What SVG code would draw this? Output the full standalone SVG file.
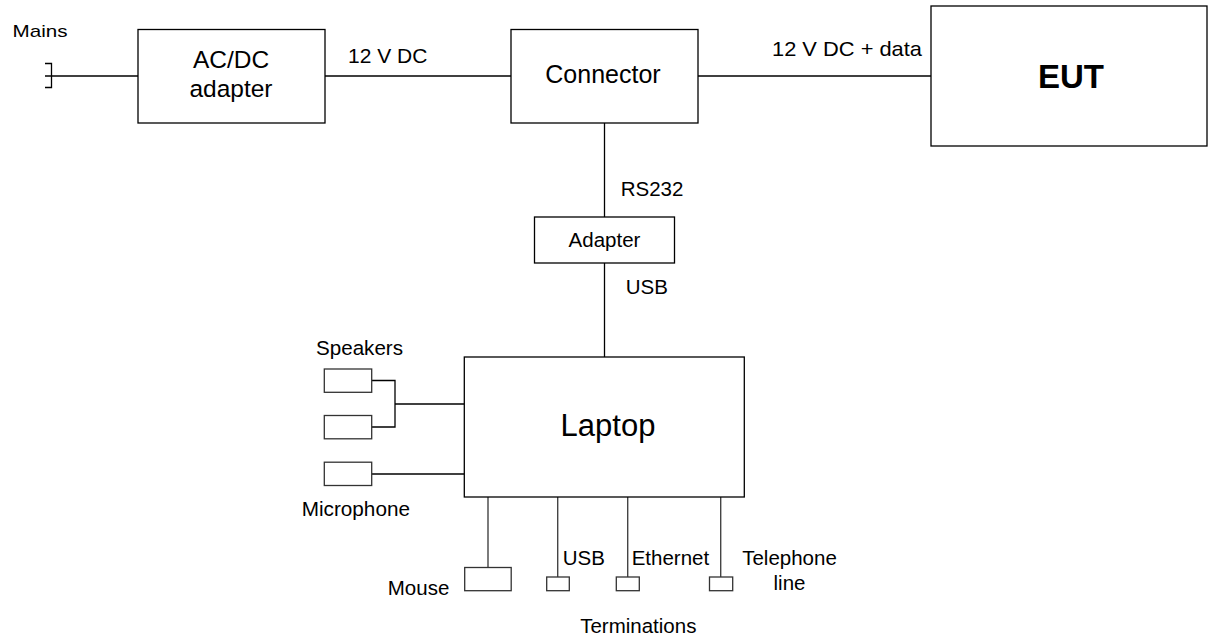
<svg xmlns="http://www.w3.org/2000/svg" width="1209" height="641" viewBox="0 0 1209 641">
<style>
text{font-family:"Liberation Sans",Arial,sans-serif;fill:#000}
.box{fill:#fff;stroke:#000;stroke-width:1.3}
.sbox{fill:#fff;stroke:#333;stroke-width:1.3}
.ln{fill:none;stroke:#000;stroke-width:1.3}
.lg{fill:none;stroke:#444;stroke-width:1.4}
.lbl{font-size:20.5px}
</style>
<rect width="1209" height="641" fill="#fff"/>
<g id="connectors">
<path class="ln" d="M45,76 H138"/>
<path class="ln" d="M45,63.5 H51.5 V87.5 H45"/>
<path class="ln" d="M325,76 H511"/>
<path class="ln" d="M698,76 H931"/>
<path class="ln" d="M604.5,123 V217"/>
<path class="ln" d="M604.5,263 V357"/>
<path class="ln" d="M372,380.5 H395 V427 H372"/>
<path class="ln" d="M395,404 H464"/>
<path class="ln" d="M372,474 H464"/>
<path class="lg" d="M488,497 V567.5"/>
<path class="lg" d="M557.7,497 V577"/>
<path class="lg" d="M627.7,497 V577"/>
<path class="lg" d="M720.7,497 V577"/>
</g>
<g id="mains"><text x="12.5" y="36.5" font-size="17" textLength="55" lengthAdjust="spacingAndGlyphs">Mains</text></g>
<g id="acdc">
<rect class="box" x="138" y="29.5" width="187" height="93.5"/>
<text x="231" y="68" font-size="24.5" text-anchor="middle">AC/DC</text>
<text x="231" y="97" font-size="24.5" text-anchor="middle">adapter</text>
</g>
<g id="lbl-12vdc"><text x="348" y="63.3" font-size="21">12 V DC</text></g>
<g id="connector">
<rect class="box" x="511" y="29.5" width="187" height="93.5"/>
<text x="603" y="83.3" font-size="25" text-anchor="middle">Connector</text>
</g>
<g id="lbl-12vdcdata"><text x="772" y="56" font-size="21" textLength="150" lengthAdjust="spacingAndGlyphs">12 V DC + data</text></g>
<g id="eut">
<rect class="box" x="931" y="6" width="276" height="140"/>
<text x="1071" y="88.3" font-size="33" font-weight="bold" text-anchor="middle">EUT</text>
</g>
<g id="lbl-rs232"><text class="lbl" x="620.7" y="196">RS232</text></g>
<g id="adapter">
<rect class="box" x="534.5" y="217" width="140" height="46"/>
<text class="lbl" x="604.5" y="246.7" text-anchor="middle">Adapter</text>
</g>
<g id="lbl-usb-top"><text class="lbl" x="625.7" y="294.3">USB</text></g>
<g id="laptop">
<rect class="box" x="464.3" y="357" width="280" height="140"/>
<text x="608" y="436" font-size="31" text-anchor="middle">Laptop</text>
</g>
<g id="speakers">
<text class="lbl" x="316" y="355" textLength="87" lengthAdjust="spacingAndGlyphs">Speakers</text>
<rect class="sbox" x="324.3" y="369" width="47.4" height="23.3"/>
<rect class="sbox" x="324.3" y="415.5" width="47.4" height="23.3"/>
</g>
<g id="microphone">
<rect class="sbox" x="324.3" y="462.2" width="47.4" height="23.3"/>
<text class="lbl" x="301.7" y="515.7" textLength="108.3" lengthAdjust="spacingAndGlyphs">Microphone</text>
</g>
<g id="mouse">
<rect class="sbox" x="464.7" y="567.5" width="46.5" height="23.2"/>
<text class="lbl" x="449.3" y="595" text-anchor="end">Mouse</text>
</g>
<g id="usb-term">
<rect class="sbox" x="546.7" y="577" width="22.6" height="13.7"/>
<text class="lbl" x="562.7" y="565">USB</text>
</g>
<g id="ethernet-term">
<rect class="sbox" x="616.3" y="577" width="23" height="13.7"/>
<text class="lbl" x="631.7" y="565">Ethernet</text>
</g>
<g id="telephone-term">
<rect class="sbox" x="709.5" y="577" width="23.2" height="13.7"/>
<text class="lbl" x="789.5" y="565" text-anchor="middle">Telephone</text>
<text class="lbl" x="789.5" y="590" text-anchor="middle">line</text>
</g>
<g id="terminations"><text class="lbl" x="638.3" y="633.3" text-anchor="middle">Terminations</text></g>
</svg>
